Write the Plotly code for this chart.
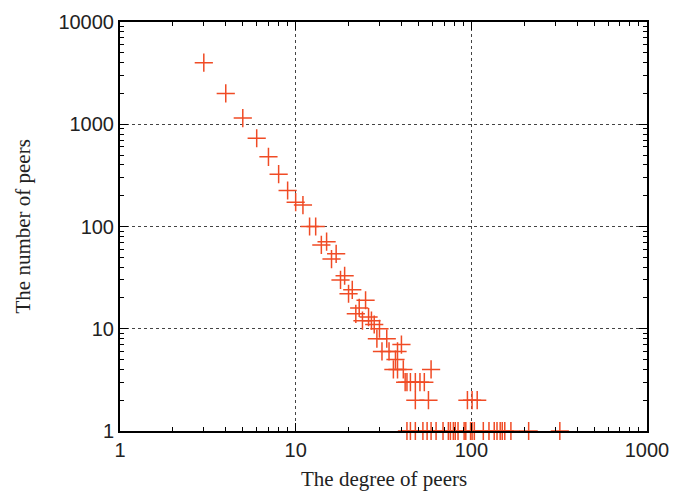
import plotly.graph_objects as go

# Degree distribution of peers (degree -> number of peers with that degree)
degree = [3, 4, 5, 6, 7, 8, 9, 10, 11, 12, 13, 14, 15, 16, 17, 18, 19, 20, 21,
          22, 23, 24, 25, 26, 27, 28, 29, 30, 31, 33, 34, 36, 37, 38, 38, 40,
          41, 42, 43, 45, 48, 51, 54, 59, 48, 57, 95, 101, 108]
peers = [4000, 2000, 1150, 730, 480, 325, 225, 173, 162, 100, 100, 66, 71, 48,
         54, 30, 33, 22, 24, 14, 16, 12, 19, 13, 12, 11, 8, 10, 6, 8, 6, 4, 5,
         6, 4, 7, 4, 3, 3, 3, 3, 3, 3, 4, 2, 2, 2, 2, 2]

# Degrees observed exactly once
single_degree = [43, 45, 48, 53, 56, 59, 63, 69, 74, 76, 79, 81, 84, 91, 93,
                 99, 101, 104, 117, 126, 135, 140, 146, 150, 155, 168, 212, 319]
single_count = [1] * len(single_degree)

x_ticks = [1, 10, 100, 1000]
y_ticks = [1, 10, 100, 1000, 10000]

mark_color = "#f04b25"
title_font = dict(family="Liberation Serif, Times New Roman, serif",
                  size=21, color="#222222")

fig = go.Figure()
fig.add_trace(go.Scatter(
    x=degree + single_degree,
    y=peers + single_count,
    mode="markers",
    marker=dict(symbol="cross-thin", size=13,
                line=dict(color=mark_color, width=1.5)),
    cliponaxis=False,
    showlegend=False,
))

axis_common = dict(
    type="log",
    automargin=False,
    showline=True, linecolor="black", linewidth=2, mirror="allticks",
    ticks="inside", ticklen=8, tickcolor="black", tickwidth=1,
    showgrid=True, gridcolor="#444444", griddash="dot", gridwidth=1,
    zeroline=False,
    tickfont=dict(family="Liberation Sans, Arial, sans-serif", size=20,
                  color="#222222"),
    minor=dict(ticks="inside", ticklen=4, tickcolor="black", dtick="D1",
               showgrid=False),
)

fig.update_xaxes(
    range=[0, 3],
    tickmode="array", tickvals=x_ticks, ticktext=[str(v) for v in x_ticks],
    **axis_common,
)
fig.update_yaxes(
    range=[0, 4],
    tickmode="array", tickvals=y_ticks, ticktext=[str(v) for v in y_ticks],
    **axis_common,
)

# Axis titles placed in paper coordinates
fig.add_annotation(text="The degree of peers", xref="paper", yref="paper",
                   x=0.5, y=0, yshift=-48, xanchor="center", yanchor="middle",
                   showarrow=False, font=title_font)
fig.add_annotation(text="The number of peers", xref="paper", yref="paper",
                   x=0, y=0.5, xshift=-98, xanchor="center", yanchor="middle",
                   textangle=-90, showarrow=False, font=title_font)

fig.update_layout(
    width=685, height=492,
    margin=dict(l=120, r=38, t=22, b=61),
    paper_bgcolor="white", plot_bgcolor="white",
)

fig.write_html("out.html")
